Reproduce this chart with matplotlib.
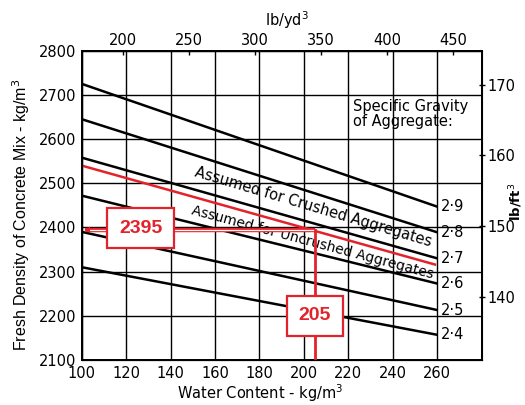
import numpy as np
import matplotlib
matplotlib.use("Agg")
import matplotlib.pyplot as plt

# ---- data ----
water = [100, 260]                       # kg/m3 (line endpoints)
sg_labels = ["2·9", "2·8", "2·7", "2·6", "2·5", "2·4"]
sg_start = [2725, 2645, 2558, 2472, 2390, 2310]   # density at 100 kg/m3
sg_end = [2447, 2389, 2330, 2273, 2213, 2157]     # density at 260 kg/m3
red_line_x = [100, 259]
red_line_y = [2540, 2316]
pick_water = 205
pick_density = 2395
x_ticks = [100, 120, 140, 160, 180, 200, 220, 240, 260]
y_ticks = [2100, 2200, 2300, 2400, 2500, 2600, 2700, 2800]
top_ticks = [200, 250, 300, 350, 400, 450]
right_ticks = [140, 150, 160, 170]
KG_TO_LBYD3 = 1.68556
KG_TO_LBFT3 = 0.0624280

RED = "#e3232b"
plt.rcParams['font.family'] = ['DejaVu Sans']

fig = plt.figure(figsize=(5.25, 4.05), dpi=100)
ax = fig.add_axes([81.7/525, 1-360/405, 400/525, (360-50.7)/405])
ax.set_xlim(100, 280)
ax.set_ylim(2100, 2800)
ax.set_xticks(x_ticks)
ax.set_yticks(y_ticks)
ax.tick_params(axis='both', length=0, labelsize=10.5, pad=4, colors='black')
ax.grid(True, color='black', lw=1.0)
for s in ax.spines.values():
    s.set_linewidth(1.4)
    s.set_color('black')
ax.set_axisbelow(True)

# specific gravity lines
for lab, y0, y1 in zip(sg_labels, sg_start, sg_end):
    ax.plot(water, [y0, y1], color='black', lw=1.8, solid_capstyle='butt', zorder=3)
    ax.text(water[1] + 1.5, y1, lab, fontsize=10.5, va='center', ha='left', zorder=4)

# red line
ax.plot(red_line_x, red_line_y, color=RED, lw=1.8, zorder=4)

# rotated annotations
def angle_of(x0, y0, x1, y1):
    p0 = ax.transData.transform((x0, y0))
    p1 = ax.transData.transform((x1, y1))
    return np.degrees(np.arctan2(p1[1]-p0[1], p1[0]-p0[0]))

ang1 = angle_of(100, 2600, 260, 2360)
ax.text(204, 2446, "Assumed for Crushed Aggregates", rotation=ang1, rotation_mode='anchor',
        ha='center', va='center', fontsize=10.5, zorder=5)
ang2 = angle_of(100, 2515, 260, 2300)
ax.text(204, 2366, "Assumed for Uncrushed Aggregates", rotation=ang2, rotation_mode='anchor',
        ha='center', va='center', fontsize=10, zorder=5)

ax.text(222, 2690, "Specific Gravity\nof Aggregate:", fontsize=10.5, ha='left', va='top',
        linespacing=1.0, zorder=5)

# red pick lines
ax.plot([pick_water, pick_water], [2100, pick_density], color=RED, lw=2.0, zorder=5)
ax.plot([101.5, pick_water], [pick_density, pick_density], color=RED, lw=3.2, zorder=5,
        solid_capstyle='butt')
ax.plot([103, pick_water - 0.8], [pick_density, pick_density], color='white', lw=0.9, zorder=5)
ax.annotate("", xy=(100, pick_density), xytext=(104, pick_density),
            arrowprops=dict(arrowstyle='-|>', color=RED, lw=0, mutation_scale=10), zorder=6)

box_font = dict(family=['Liberation Sans', 'DejaVu Sans'], fontsize=14, fontweight='bold', color=RED)
ax.text(126.5, pick_density + 3, str(pick_density), ha='center', va='center', zorder=7,
        bbox=dict(boxstyle='square,pad=0.6', fc='white', ec=RED, lw=1.6), **box_font)
ax.text(pick_water, 2200, str(pick_water), ha='center', va='center', zorder=7,
        bbox=dict(boxstyle='square,pad=0.6', fc='white', ec=RED, lw=1.6), **box_font)

# top axis (lb/yd3)
axt = ax.twiny()
axt.set_xlim(100 * KG_TO_LBYD3, 280 * KG_TO_LBYD3)
axt.set_xticks(top_ticks)
axt.tick_params(axis='x', direction='in', length=3, width=1, labelsize=10.5, pad=2)
axt.spines['top'].set_linewidth(1.4)

# right axis (lb/ft3)
axr = ax.twinx()
axr.set_ylim(2100 * KG_TO_LBFT3, 2800 * KG_TO_LBFT3)
axr.set_yticks(right_ticks)
axr.tick_params(axis='y', direction='inout', length=4, width=1, labelsize=10.5, pad=2)
axr.spines['right'].set_linewidth(1.4)

fig.text(287/525, 1-20/405, "lb/yd$^3$", ha='center', va='center', fontsize=10.5)
fig.text(260/525, 1-393/405, "Water Content - kg/m$^3$", ha='center', va='center', fontsize=10.5)
fig.text(21/525, 1-215/405, "Fresh Density of Concrete Mix - kg/m$^3$", rotation=90,
         ha='center', va='center', fontsize=11.5, family=['Liberation Sans', 'DejaVu Sans'])
fig.text(507/525, 1-202/405, "lb/ft$^3$", rotation=90, ha='left', va='center',
         fontsize=9.5, fontweight='bold')

fig.savefig("out.png", dpi=100, facecolor='white')
